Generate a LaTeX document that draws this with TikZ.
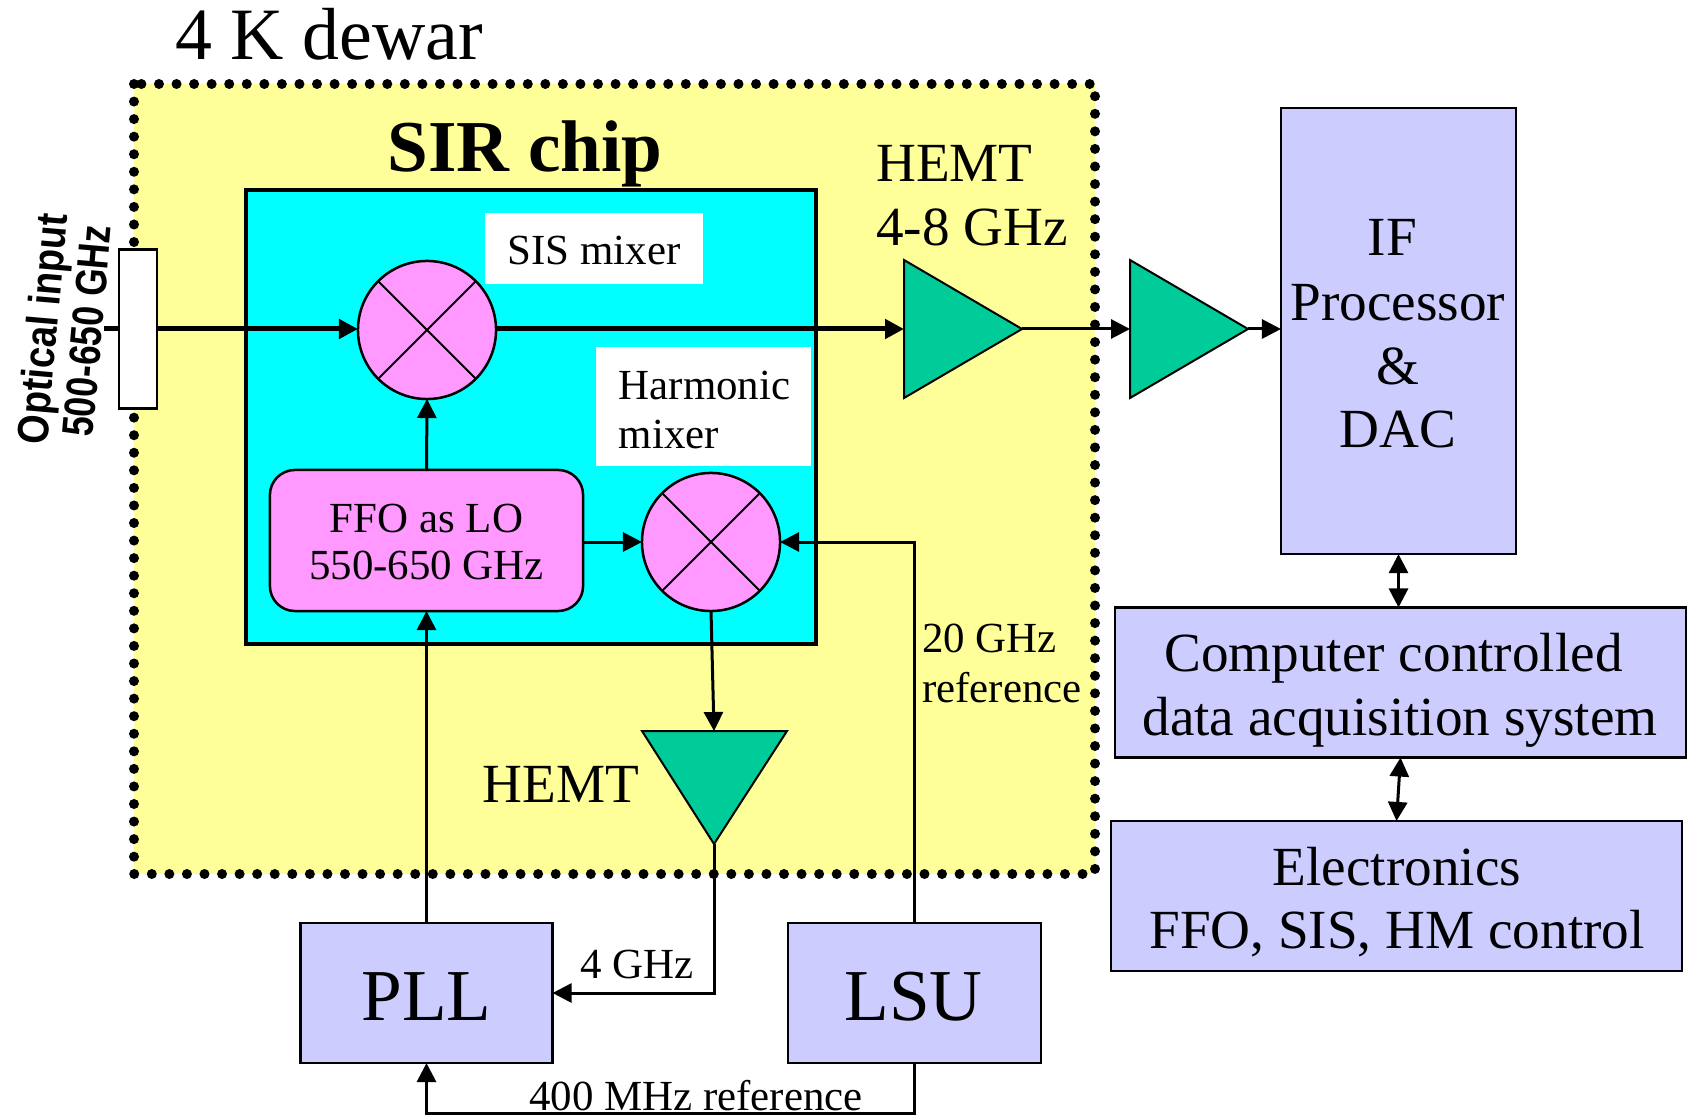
\documentclass[tikz,border=0pt]{standalone}
\usepackage{fontspec}
\setmainfont{Liberation Serif}
\setsansfont{Liberation Sans}
\usetikzlibrary{arrows.meta,positioning}
\definecolor{DewarYellow}{HTML}{FFFF99}
\definecolor{ChipCyan}{HTML}{00FFFF}
\definecolor{MixerPink}{HTML}{FF99FF}
\definecolor{BlockBlue}{HTML}{CCCCFF}
\definecolor{AmpGreen}{HTML}{00CC99}
\newcommand{\fontpx}[1]{\fontsize{#1}{#1}\selectfont}
\tikzset{
	>={Triangle[length=0.19cm,width=0.19cm]},
	wire/.style={line width=0.03cm},
	thickwire/.style={line width=0.05cm},
	crosswire/.style={line width=0.02cm},
	mixershape/.style={circle, draw, fill=MixerPink, line width=0.025cm, minimum size=1.38cm, inner sep=0pt, outer sep=0pt},
	ampshape/.style={draw, fill=AmpGreen, line width=0.02cm, line join=miter},
	blockbox/.style={rectangle, draw, fill=BlockBlue, line width=0.025cm, inner sep=0pt, outer sep=0pt},
	whitelabel/.style={rectangle, fill=white, inner sep=0pt, outer sep=0pt},
	smalltext/.style={font=\fontpx{12.2pt}, inner sep=0pt, align=left},
	midtext/.style={font=\fontpx{15.7pt}, inner sep=0pt, align=center},
	bigtext/.style={font=\fontpx{21pt}, inner sep=0pt},
	inputtext/.style={font=\sffamily\bfseries\fontpx{12.5pt}, inner sep=0pt, rotate=85}
}
\begin{document}
\begin{tikzpicture}[x=0.01cm,y=-0.01cm]
	\useasboundingbox (0,0) rectangle (1692,1116);
	\draw [fill=DewarYellow, draw=none] (134,84) rectangle (1095,874);
	\draw [line width=0.1cm, line cap=round, dash pattern=on 0pt off 0.1755cm] (134,84) rectangle (1095,874);
	\node [bigtext] (DewarLabel) at (329,34) {4 K dewar};
	\node [rectangle, draw, fill=ChipCyan, line width=0.045cm, minimum width=5.7cm, minimum height=4.54cm, outer sep=0pt] (SIRChip) at (531,417) {};
	\node [bigtext, font=\bfseries\fontpx{20.8pt}] (ChipLabel) at (525,154) {SIR chip};
	\node [whitelabel, minimum width=2.18cm, minimum height=0.71cm] (SISLabelBox) at (594,248.5) {};
	\node [smalltext] (SISLabel) at (594,251) {SIS mixer};
	\node [whitelabel, minimum width=2.15cm, minimum height=1.19cm] (HarmonicLabelBox) at (703.5,406.5) {};
	\node [smalltext, anchor=west, text width=1.9cm] (HarmonicLabel) at (618,410) {Harmonic\\[0.057cm]mixer};
	\node [mixershape] (SISMixer) at (427,330) {};
	\draw [crosswire] (SISMixer.45) -- (SISMixer.225) (SISMixer.135) -- (SISMixer.315);
	\node [mixershape] (HarmonicMixer) at (711,542) {};
	\draw [crosswire] (HarmonicMixer.45) -- (HarmonicMixer.225) (HarmonicMixer.135) -- (HarmonicMixer.315);
	\node [rectangle, rounded corners=0.25cm, draw, fill=MixerPink, line width=0.025cm, minimum width=3.13cm, minimum height=1.41cm, outer sep=0pt] (FFOBox) at (426.5,540.5) {};
	\node [smalltext, align=center] (FFOLabel) at (426.5,542) {FFO as LO\\[0.046cm]550-650 GHz};
	\coordinate (OpticalStub) at (104,329);
	\draw [thickwire,->] (OpticalStub) -- (OpticalStub -| SISMixer.west);
	\node [rectangle, draw, fill=white, line width=0.025cm, minimum width=0.38cm, minimum height=1.59cm, outer sep=0pt] (OpticalPort) at (138,329) {};
	\node [inputtext] (OpticalLabel) at (46,329) {\scalebox{0.86}[1]{Optical input}};
	\node [inputtext] (OpticalRange) at (87,331) {\scalebox{0.81}[1]{500-650 GHz}};
	\coordinate (AmpOneIn) at (904,329);
	\coordinate (AmpOneTop) at (904,260);
	\coordinate (AmpOneBot) at (904,398);
	\coordinate (AmpOneOut) at (1022,329);
	\coordinate (AmpTwoIn) at (1130,329);
	\coordinate (AmpTwoTop) at (1130,260);
	\coordinate (AmpTwoBot) at (1130,398);
	\coordinate (AmpTwoOut) at (1248,329);
	\coordinate (AmpLowIn) at (714,731);
	\coordinate (AmpLowLeft) at (642,731);
	\coordinate (AmpLowRight) at (787,731);
	\coordinate (AmpLowOut) at (714,844);
	\draw [ampshape] (AmpOneTop) -- (AmpOneOut) -- (AmpOneBot) -- cycle;
	\draw [ampshape] (AmpTwoTop) -- (AmpTwoOut) -- (AmpTwoBot) -- cycle;
	\draw [ampshape] (AmpLowLeft) -- (AmpLowRight) -- (AmpLowOut) -- cycle;
	\node [blockbox, minimum width=2.35cm, minimum height=4.46cm] (IFBox) at (1398.5,331) {};
	\node [midtext] (IFLabel) at (1398,334) {IF\hspace*{0.11cm}\\[0.09cm]Processor\\[0.09cm]\&\\[0.08cm]DAC};
	\node [blockbox, minimum width=5.71cm, minimum height=1.5cm] (ComputerBox) at (1400.5,682.5) {};
	\node [midtext] (ComputerLabel) at (1400,690) {Computer controlled\hspace*{0.13cm}\\[0.085cm]data acquisition system};
	\node [blockbox, minimum width=5.71cm, minimum height=1.5cm] (ElectronicsBox) at (1396.5,896) {};
	\node [midtext] (ElectronicsLabel) at (1397,902) {Electronics\\[0.085cm]FFO, SIS, HM control};
	\node [blockbox, minimum width=2.52cm, minimum height=1.4cm] (PLLBox) at (426.5,993) {};
	\node [bigtext, font=\fontpx{20.8pt}] (PLLLabel) at (426.5,997) {PLL};
	\node [blockbox, minimum width=2.53cm, minimum height=1.4cm] (LSUBox) at (914.5,993) {};
	\node [bigtext, font=\fontpx{20.8pt}] (LSULabel) at (913.5,997) {LSU};
	\node [midtext, align=left] (HemtTopLabel) at (972,196) {HEMT\\[0.085cm]4-8 GHz};
	\node [midtext] (HemtLowLabel) at (561,784) {HEMT};
	\node [smalltext] (RefLabel) at (1002,663) {20 GHz\\[0.07cm]reference};
	\node [smalltext] (FourLabel) at (637,964) {4 GHz};
	\node [smalltext] (FourHundredLabel) at (696,1096) {400 MHz reference};
	\draw [thickwire,->] (SISMixer.east |- AmpOneIn) -- (AmpOneIn);
	\draw [wire,->] (AmpOneOut) -- (AmpTwoIn);
	\draw [wire,->] (AmpTwoOut) -- (IFBox.west |- AmpTwoOut);
	\draw [wire,->] (FFOBox.north) -- (SISMixer.south);
	\draw [wire,->] (FFOBox.east |- HarmonicMixer.west) -- (HarmonicMixer.west);
	\draw [wire,->] (PLLBox.north) -- (FFOBox.south);
	\draw [wire,->] (HarmonicMixer.south) -- (AmpLowIn);
	\draw [wire,->] (LSUBox.north) |- (HarmonicMixer.east);
	\draw [wire,->] (AmpLowOut) |- (PLLBox.east);
	\draw [wire,->] (LSUBox.south) -- ++(0,50) -| (PLLBox.south);
	\draw [wire,<->] (IFBox.south) -- (ComputerBox.north -| IFBox.south);
	\draw [wire,<->] (ComputerBox.south) -- (ElectronicsBox.north);
\end{tikzpicture}
\end{document}
